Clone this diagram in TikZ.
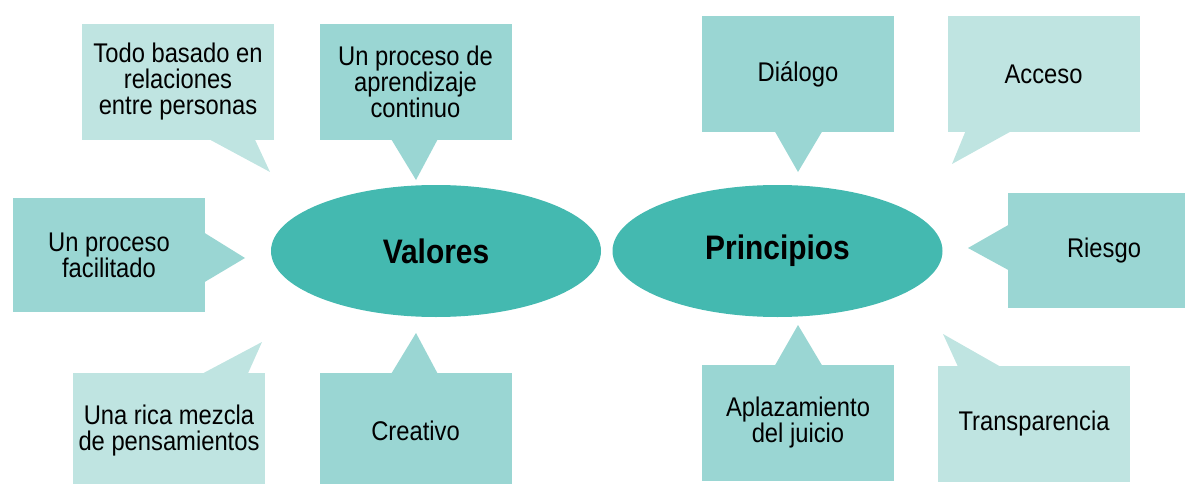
\documentclass[tikz,border=0pt]{standalone}
\usepackage{fontspec}
\setmainfont{Liberation Sans}[FakeStretch=0.88]
\usetikzlibrary{shapes.geometric}
\definecolor{tealc}{HTML}{44B9B0}
\definecolor{midc}{HTML}{9AD6D3}
\definecolor{lightc}{HTML}{BFE4E1}
\begin{document}
\begin{tikzpicture}[x=1pt,y=-1pt,
  box/.style={rectangle, minimum width=192pt, minimum height=116pt, inner sep=0pt, align=center, font=\fontsize{27}{26}\selectfont},
  midbox/.style={box, fill=midc},
  lightbox/.style={box, fill=lightc},
  hub/.style={ellipse, fill=tealc, minimum width=330pt, minimum height=132pt, inner sep=0pt, font=\fontsize{34}{36}\selectfont\bfseries}
]
\useasboundingbox (0,0) rectangle (1185,484);

% hubs
\node[hub] (valores) at (436,251) {Valores};
\node[hub] (principios) at (777.5,251) {Principios};

% boxes
\node[lightbox] (todo) at (178,82) {Todo basado en\\relaciones\\entre personas};
\node[midbox] (aprend) at (415.5,82) {Un proceso de\\aprendizaje\\continuo};
\node[midbox] (dialogo) at (798,74) {Diálogo};
\node[lightbox] (acceso) at (1043.5,74) {Acceso};
\node[midbox, minimum height=114pt] (facil) at (109,255) {Un proceso\\facilitado};
\node[midbox, minimum height=115pt] (riesgo) at (1104,250.5) {Riesgo};
\node[lightbox] (mezcla) at (169,431) {Una rica mezcla\\de pensamientos};
\node[midbox] (creativo) at (415.5,431) {Creativo};
\node[midbox] (aplaz) at (798,423) {Aplazamiento\\del juicio};
\node[lightbox] (transp) at (1034,424) {Transparencia};

% tail tips
\coordinate (tTodo) at (270,172);
\coordinate (tAprend) at (416,180);
\coordinate (tDialogo) at (798,172);
\coordinate (tAcceso) at (952,164);
\coordinate (tFacil) at (245,258);
\coordinate (tRiesgo) at (968,248);
\coordinate (tMezcla) at (262,342);
\coordinate (tCreativo) at (416,333);
\coordinate (tAplaz) at (798,325);
\coordinate (tTransp) at (943,334);

% tails
\fill[lightc] ([xshift=32pt,yshift=0.5pt]todo.south) -- (tTodo) -- ([xshift=77pt,yshift=0.5pt]todo.south) -- cycle;
\fill[midc] ([xshift=-24pt,yshift=0.5pt]aprend.south) -- (tAprend) -- ([xshift=22pt,yshift=0.5pt]aprend.south) -- cycle;
\fill[midc] ([xshift=-23pt,yshift=0.5pt]dialogo.south) -- (tDialogo) -- ([xshift=24pt,yshift=0.5pt]dialogo.south) -- cycle;
\fill[lightc] ([xshift=18pt,yshift=0.5pt]acceso.south west) -- (tAcceso) -- ([xshift=63pt,yshift=0.5pt]acceso.south west) -- cycle;
\fill[midc] ([xshift=-0.5pt,yshift=22pt]facil.east) -- (tFacil) -- ([xshift=-0.5pt,yshift=-27pt]facil.east) -- cycle;
\fill[midc] ([xshift=0.5pt,yshift=25.5pt]riesgo.west) -- (tRiesgo) -- ([xshift=0.5pt,yshift=-19.5pt]riesgo.west) -- cycle;
\fill[lightc] ([xshift=34pt,yshift=-0.5pt]mezcla.north) -- (tMezcla) -- ([xshift=79pt,yshift=-0.5pt]mezcla.north) -- cycle;
\fill[midc] ([xshift=-24pt,yshift=-0.5pt]creativo.north) -- (tCreativo) -- ([xshift=22pt,yshift=-0.5pt]creativo.north) -- cycle;
\fill[midc] ([xshift=-23pt,yshift=-0.5pt]aplaz.north) -- (tAplaz) -- ([xshift=24pt,yshift=-0.5pt]aplaz.north) -- cycle;
\fill[lightc] ([xshift=20pt,yshift=-0.5pt]transp.north west) -- (tTransp) -- ([xshift=62pt,yshift=-0.5pt]transp.north west) -- cycle;
\end{tikzpicture}
\end{document}
